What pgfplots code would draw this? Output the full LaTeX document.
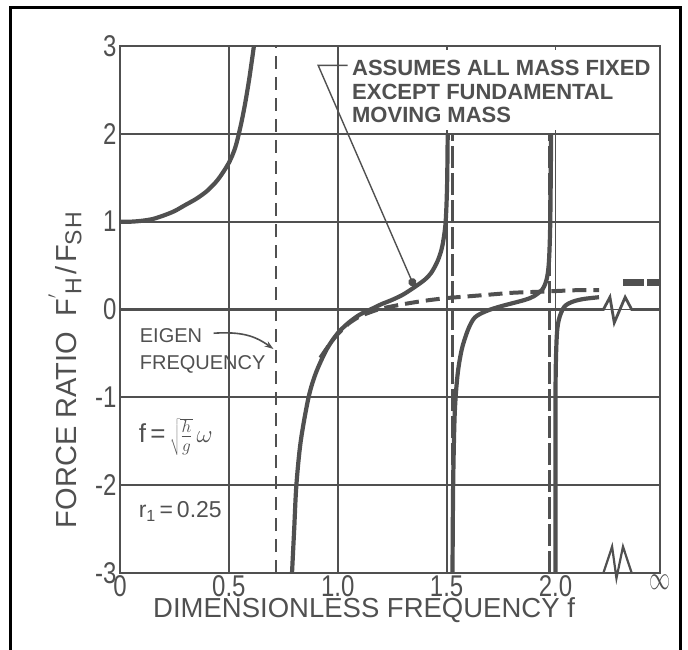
\documentclass[border=0pt]{standalone}
\usepackage{fontspec}
\usepackage{pgfplots}
\pgfplotsset{compat=1.18}
\usetikzlibrary{arrows.meta}
\setmainfont{Liberation Sans}
\newfontfamily\lett[FakeStretch=0.8]{Liberation Sans}
\definecolor{ink}{RGB}{80,80,80}
\begin{document}
\begin{tikzpicture}
\useasboundingbox (0pt,0pt) rectangle (688pt,649pt);
\begin{axis}[
  at={(120pt,76pt)}, anchor=south west,
  width=540pt, height=527pt, scale only axis,
  xmin=0, xmax=2.48, ymin=-3, ymax=3,
  xtick={0,0.5,1,1.5,2,2.48},
  xticklabels={0,0.5,1.0,1.5,2.0,{\scalebox{0.85}[1.35]{\fontsize{40}{40}\selectfont$\infty$}}},
  ytick={-3,-2,-1,0,1,2,3},
  yticklabels={-3,-2,-1,0,1,2,3},
  grid=major,
  major grid style={ink, line width=1.8pt},
  axis line style={ink, line width=2.6pt},
  major tick length=0pt,
  tick label style={font=\lett\fontsize{30}{30}\selectfont, text=ink},
  xticklabel style={yshift=1pt},
  xlabel={DIMENSIONLESS FREQUENCY f},
  xlabel style={at={(axis description cs:0.452,-0.071)}, anchor=center, font=\fontsize{27.5}{27.5}\selectfont, text=ink},
  ylabel={FORCE RATIO\hspace{0.55em}F\raisebox{0.45em}{\fontsize{22}{22}\selectfont$'$}\kern-0.02em\raisebox{-0.15em}{\fontsize{23}{23}\selectfont H}\hspace{0.12em}/\hspace{0.12em}F\raisebox{-0.15em}{\fontsize{23}{23}\selectfont S\kern0.05em H}},
  ylabel style={at={(axis description cs:-0.102,0.385)}, anchor=center, font=\fontsize{29}{29}\selectfont, text=ink},
  clip=false,
]
% white box for annotation
\fill[white] (axis cs:1.02,2.04) rectangle (axis cs:2.47,2.96);
% thick zero line with break
\addplot[ink, line width=2.8pt] coordinates {(0,0) (2.22,0) (2.25,0.14) (2.27,-0.15) (2.32,0.14) (2.35,0) (2.48,0)};
% break at bottom
\addplot[ink, line width=2.2pt] coordinates {(2.22,-3) (2.26,-2.7) (2.28,-3.06) (2.31,-2.7) (2.35,-3)};
% eigen frequency
\addplot[ink, line width=1.8pt, dash pattern=on 13pt off 8pt] coordinates {(0.717,-3) (0.717,3)};
% asymptotes
\addplot[ink, line width=3pt, dash pattern=on 22pt off 5pt] coordinates {(1.525,-3) (1.525,2)};
\addplot[ink, line width=3pt, dash pattern=on 22pt off 5pt] coordinates {(1.972,-3) (1.972,2)};
% curve 1
\addplot[ink, line width=4.2pt, smooth] coordinates {
(0,1) (0.05,1.0) (0.1,1.01) (0.15,1.03) (0.2,1.07) (0.25,1.12) (0.3,1.19) (0.35,1.26)
(0.4,1.35) (0.45,1.48) (0.5,1.67) (0.53,1.85) (0.555,2.1) (0.575,2.35) (0.595,2.65) (0.615,3.0)};
% curve 2
\addplot[ink, line width=4.2pt, smooth] coordinates {
(0.79,-3) (0.80,-2.5) (0.81,-2.0) (0.83,-1.5) (0.866,-1.0) (0.9,-0.72) (0.95,-0.45) (1.0,-0.27)
(1.05,-0.15) (1.1,-0.06) (1.15,0.0) (1.2,0.06) (1.25,0.11) (1.3,0.17) (1.35,0.25) (1.4,0.34)
(1.43,0.42) (1.46,0.56) (1.48,0.72) (1.495,0.98) (1.502,1.4) (1.505,2.0)};
% curve 3
\addplot[ink, line width=4.2pt, smooth] coordinates {
(1.527,-3) (1.53,-2) (1.537,-1.2) (1.55,-0.75) (1.57,-0.45) (1.6,-0.22) (1.63,-0.09) (1.68,-0.02)
(1.74,0.03) (1.8,0.07) (1.86,0.11) (1.9,0.15) (1.94,0.23) (1.96,0.35) (1.97,0.55) (1.976,1.0) (1.98,2.0)};
% curve 4
\addplot[ink, line width=4.2pt, smooth] coordinates {
(2.0,-3) (2.0,-1) (2.005,-0.35) (2.015,-0.12) (2.04,0.03) (2.08,0.09) (2.13,0.12) (2.2,0.14)};
% fixed-mass dashed curve
\addplot[ink, line width=4pt, dash pattern=on 14pt off 7pt, smooth] coordinates {
(0.92,-0.55) (0.97,-0.37) (1.0,-0.28) (1.05,-0.16) (1.1,-0.08) (1.15,-0.03) (1.2,0.01) (1.3,0.06)
(1.4,0.1) (1.5,0.13) (1.6,0.15) (1.7,0.17) (1.8,0.19) (1.9,0.2) (2.0,0.21) (2.1,0.22) (2.2,0.22)};
\addplot[ink, line width=6.5pt, dash pattern=on 21pt off 3pt] coordinates {(2.31,0.31) (2.48,0.31)};
% texts
\node[anchor=west, font=\fontsize{20}{20}\selectfont, text=ink] at (axis cs:0.075,-0.30) {EIGEN};
\node[anchor=west, font=\fontsize{20}{20}\selectfont, text=ink] at (axis cs:0.075,-0.62) {FREQUENCY};
\draw[ink, line width=1.6pt, -{Stealth[length=9pt,width=6pt]}] (axis cs:0.43,-0.27) .. controls (axis cs:0.56,-0.25) and (axis cs:0.62,-0.30) .. (axis cs:0.705,-0.45);
\node[anchor=west, font=\bfseries\fontsize{22}{22}\selectfont, text=ink] at (axis cs:1.05,2.75) {ASSUMES ALL MASS FIXED};
\node[anchor=west, font=\bfseries\fontsize{22}{22}\selectfont, text=ink] at (axis cs:1.05,2.48) {EXCEPT FUNDAMENTAL};
\node[anchor=west, font=\bfseries\fontsize{22}{22}\selectfont, text=ink] at (axis cs:1.05,2.22) {MOVING MASS};
\draw[ink, line width=1.4pt, -{Circle[length=8pt]}] (axis cs:1.045,2.78) -- (axis cs:0.91,2.78) -- (axis cs:1.35,0.27);
\node[anchor=west, font=\fontsize{26}{26}\selectfont, text=ink] at (axis cs:0.07,-1.45) {f\,=\,$\sqrt{\textstyle\frac{h}{g}}\,\omega$};
\node[anchor=west, font=\fontsize{23}{23}\selectfont, text=ink] at (axis cs:0.07,-2.3) {r\textsubscript{1}\,=\,0.25};
\end{axis}
\draw[line width=3pt, black] (10pt,-5pt) -- (10pt,641pt) -- (680pt,641pt) -- (680pt,-5pt);
\end{tikzpicture}
\end{document}
